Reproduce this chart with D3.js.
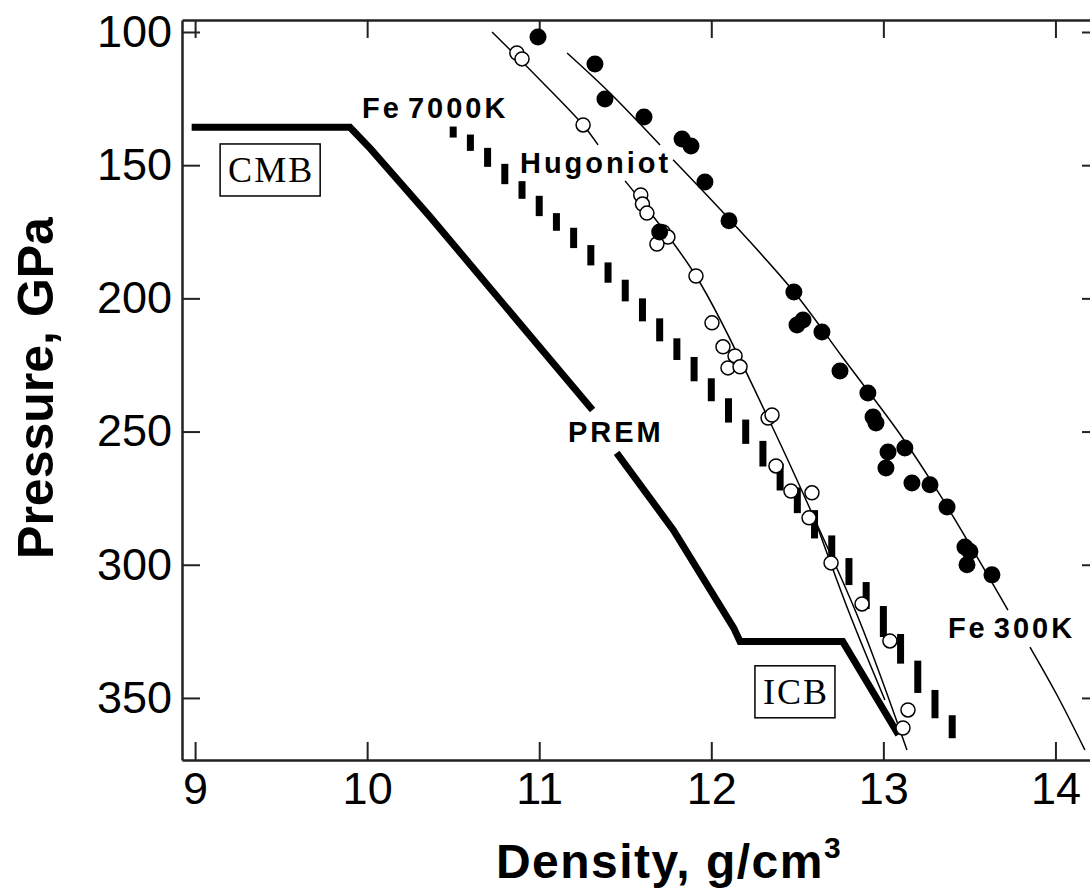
<!DOCTYPE html>
<html>
<head>
<meta charset="utf-8">
<script src="https://cdn.jsdelivr.net/npm/d3@7"></script>
<style>
  body { margin: 0; background: #fff; }
  svg { display: block; font-family: "Liberation Sans", Arial, Helvetica, sans-serif; }
  .axis .domain { stroke: #222; stroke-width: 2.5; }
  .axis .tick line { stroke: #222; stroke-width: 2; }
  .axis .tick text { fill: #000; font-size: 45px; font-family: "Liberation Sans", Arial, sans-serif; }
</style>
</head>
<body>
<svg id="chart" width="1090" height="890"></svg>
<script>
// axis ranges and ticks
const xDomain = [8.924, 14.259];
const yDomain = [95.5, 373.3];
const xTicks = [9, 10, 11, 12, 13, 14];
const yTicks = [100, 150, 200, 250, 300, 350];

// PREM (thick line), split where its label sits
const premA = [[8.98, 135.75], [9.90, 135.75], [10.02, 143.9], [10.366, 169.4], [11.31, 241.9]];
const premB = [[11.45, 258], [11.78, 287], [12.13, 323.7], [12.167, 328.85], [12.764, 328.85], [13.088, 363.85]];

// Fe 7000K curve sampled every 0.1 g/cm3 (drawn as vertical dashes)
const fe7000Density = [10.5, 10.6, 10.7, 10.8, 10.9, 11.0, 11.1, 11.2, 11.3, 11.4, 11.5, 11.6, 11.7, 11.8, 11.9, 12.0,
  12.1, 12.2, 12.3, 12.4, 12.5, 12.6, 12.7, 12.8, 12.9, 13.0, 13.1, 13.2, 13.3, 13.4, 13.5];
const fe7000Pressure = [135.5, 138.5, 143.5, 149.5, 156, 161.5, 168, 173.5, 180, 186.5, 193, 200, 207.5, 215, 222, 230,
  237.5, 245.5, 253.5, 262, 271, 279.5, 289, 297.5, 306.5, 315.5, 326, 336, 347, 356.5, 364];

// Hugoniot fit (thin line), gap for the label, plus the short lower branch
const hugFitA = [[10.726, 100], [11.005, 118.0], [11.255, 134.9], [11.342, 142.4]];
const hugFitB = [[11.499, 155.9], [11.911, 191.6], [12.330, 244.9], [12.603, 283.2], [12.864, 321.5], [13.137, 369.5]];
const hugFitC = [[12.603, 283.2], [12.806, 318.8], [13.009, 350.75]];

// Fe 300K fit (thin line), gaps for labels
const fe300FitA = [[11.162, 107.9], [11.411, 122.9], [11.702, 142.4]];
const fe300FitB = [[11.778, 148.0], [12.109, 170.6], [12.481, 197.6], [12.766, 222.4], [13.096, 250.9],
  [13.329, 273.8], [13.724, 317.0]];
const fe300FitC = [[13.852, 330.9], [14.009, 348.9], [14.171, 369.5]];

// Hugoniot measurements (open circles)
const hugDensity = [10.87, 10.90, 11.255, 11.59, 11.60, 11.626, 11.72, 11.748, 11.684, 11.911, 12.004, 12.068, 12.138,
  12.097, 12.167, 12.33, 12.353, 12.376, 12.463, 12.585, 12.568, 12.696, 12.876, 13.038, 13.143, 13.114];
const hugPressure = [107.9, 110.1, 134.9, 161.2, 164.6, 168, 175.1, 177, 179.6, 191.6, 209.2, 218.2, 221.6,
  226.1, 225.7, 244.9, 243.8, 262.9, 272.3, 273.0, 282.4, 299.3, 314.7, 328.6, 354.5, 361.3];

// Fe 300K measurements (filled circles)
const fe300Density = [10.993, 11.324, 11.382, 11.609, 11.83, 11.882, 11.963, 12.103, 11.70, 12.48, 12.498, 12.533,
  12.643, 12.748, 12.91, 12.94, 12.957, 13.125, 13.027, 13.015, 13.166, 13.271, 13.37, 13.474, 13.503, 13.486, 13.631];
const fe300Pressure = [101.9, 112.0, 125.2, 131.9, 140.2, 142.8, 156.3, 170.9, 175.1, 197.6, 210, 208.1,
  212.6, 227.3, 235.5, 244.5, 246.8, 256.2, 257.7, 263.7, 269.3, 270, 278.3, 293.3, 295, 300, 303.8];

// curve labels (start of text, baseline) in data units
const curveLabels = [
  { text: 'Fe 7000K', d: 9.97, p: 132.3 },
  { text: 'Hugoniot', d: 10.888, p: 152.9 },
  { text: 'PREM', d: 11.167, p: 253.9 },
  { text: 'Fe 300K', d: 13.375, p: 327.5 }
];
// boxed boundary labels (centre) in data units
const boxLabels = [
  { text: 'CMB', d: 9.442, p: 151.8 },
  { text: 'ICB', d: 12.492, p: 347.7 }
];

const svg = d3.select('#chart');

const x = d3.scaleLinear().domain(xDomain).range([182, 1100]);
const y = d3.scaleLinear().domain(yDomain).range([20, 760]);

// axes with inward ticks on all four sides
svg.append('g').attr('class', 'axis')
  .attr('transform', `translate(0,${y.range()[1]})`)
  .call(d3.axisBottom(x).tickValues(xTicks).tickSizeInner(-18).tickSizeOuter(0).tickPadding(12).tickFormat(d3.format('d')));

svg.append('g').attr('class', 'axis')
  .attr('transform', `translate(0,${y.range()[0]})`)
  .call(d3.axisTop(x).tickValues(xTicks).tickSizeInner(-18).tickSizeOuter(0).tickFormat(''));

svg.append('g').attr('class', 'axis')
  .attr('transform', `translate(${x.range()[0]},0)`)
  .call(d3.axisLeft(y).tickValues(yTicks).tickSizeInner(-18).tickSizeOuter(0).tickPadding(10).tickFormat(d3.format('d')));

svg.append('g').attr('class', 'axis')
  .attr('transform', `translate(${x.range()[1]},0)`)
  .call(d3.axisRight(y).tickValues(yTicks).tickSizeInner(-18).tickSizeOuter(0).tickFormat(''));

// axis titles
const xTitle = svg.append('text')
  .attr('x', 669).attr('y', 878)
  .attr('text-anchor', 'middle')
  .attr('font-size', 48).attr('font-weight', 'bold')
  .attr('letter-spacing', 1.5)
  .text('Density, g/cm');
xTitle.append('tspan').attr('font-size', 30).attr('dy', -20).text('3');

svg.append('text')
  .attr('transform', 'translate(53,388) rotate(-90)')
  .attr('text-anchor', 'middle')
  .attr('font-size', 50).attr('font-weight', 'bold')
  .text('Pressure, GPa');

const line = d3.line().x(d => x(d[0])).y(d => y(d[1]));

// PREM
svg.selectAll('path.prem')
  .data([premA, premB])
  .join('path')
  .attr('class', 'prem')
  .attr('d', line)
  .attr('fill', 'none')
  .attr('stroke', '#000')
  .attr('stroke-width', 7)
  .attr('stroke-linejoin', 'miter');

// Fe 7000K vertical dashes: each spans its step of the curve
const fe7000 = fe7000Density.map((d, i) => ({ d, p: fe7000Pressure[i] }));
svg.selectAll('rect.fe7000')
  .data(fe7000.slice(0, -1))
  .join('rect')
  .attr('class', 'fe7000')
  .attr('x', d => x(d.d) - 3.5)
  .attr('width', 7)
  .attr('y', d => y(d.p))
  .attr('height', (d, i) => y(fe7000[i + 1].p) - y(d.p) + 3)
  .attr('fill', '#000');

// thin fit lines
const smooth = d3.line().x(d => x(d[0])).y(d => y(d[1])).curve(d3.curveCatmullRom.alpha(0.5));
svg.selectAll('path.fit')
  .data([hugFitA, hugFitB, hugFitC, fe300FitA, fe300FitB, fe300FitC])
  .join('path')
  .attr('class', 'fit')
  .attr('d', smooth)
  .attr('fill', 'none')
  .attr('stroke', '#000')
  .attr('stroke-width', 1.5);

// Hugoniot points
svg.selectAll('circle.hug')
  .data(hugDensity.map((d, i) => [d, hugPressure[i]]))
  .join('circle')
  .attr('class', 'hug')
  .attr('cx', d => x(d[0]))
  .attr('cy', d => y(d[1]))
  .attr('r', 7)
  .attr('fill', '#fff')
  .attr('stroke', '#000')
  .attr('stroke-width', 1.5);

// Fe 300K points
svg.selectAll('circle.fe300')
  .data(fe300Density.map((d, i) => [d, fe300Pressure[i]]))
  .join('circle')
  .attr('class', 'fe300')
  .attr('cx', d => x(d[0]))
  .attr('cy', d => y(d[1]))
  .attr('r', 8.5)
  .attr('fill', '#000');

// curve labels
svg.selectAll('text.curve')
  .data(curveLabels)
  .join('text')
  .attr('class', 'curve')
  .attr('x', d => x(d.d))
  .attr('y', d => y(d.p))
  .attr('font-size', 29)
  .attr('font-weight', 'bold')
  .attr('letter-spacing', 3)
  .attr('word-spacing', -5)
  .text(d => d.text);

// boxed CMB / ICB
const boxes = svg.selectAll('g.box')
  .data(boxLabels)
  .join('g')
  .attr('class', 'box')
  .attr('transform', d => `translate(${x(d.d)},${y(d.p)})`);

boxes.append('text')
  .attr('text-anchor', 'middle')
  .attr('y', 12)
  .attr('font-family', '"Liberation Serif", "Times New Roman", serif')
  .attr('font-size', 36)
  .attr('letter-spacing', 2)
  .text(d => d.text);

boxes.each(function () {
  const g = d3.select(this);
  const bb = g.select('text').node().getBBox();
  g.insert('rect', 'text')
    .attr('x', bb.x - 8)
    .attr('y', -26)
    .attr('width', bb.width + 14)
    .attr('height', 52)
    .attr('fill', '#fff')
    .attr('stroke', '#000')
    .attr('stroke-width', 1.5);
});
</script>
</body>
</html>
